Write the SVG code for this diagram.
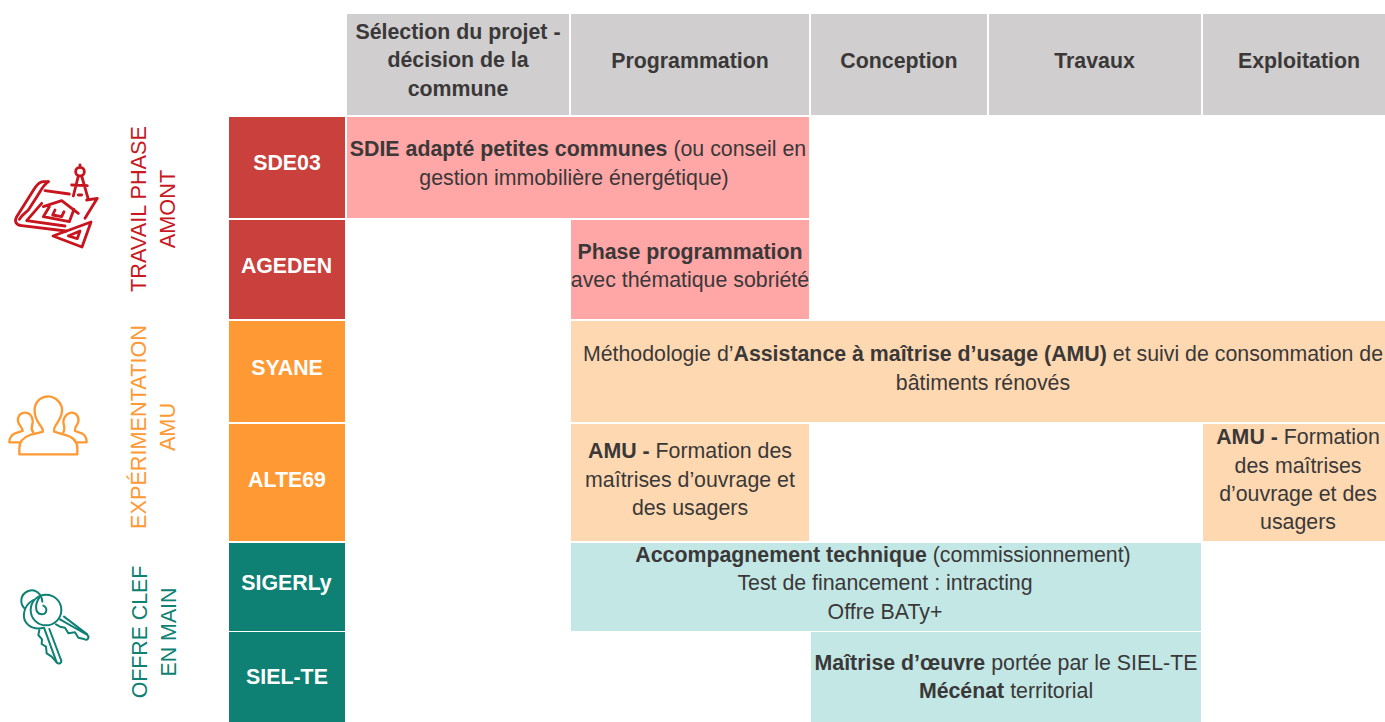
<svg xmlns="http://www.w3.org/2000/svg" width="1385" height="722" viewBox="0 0 1385 722">
<style>
text{font-family:"Liberation Sans",Arial,sans-serif;font-size:21.33px;fill:#3a3838;text-anchor:middle}
.b{font-weight:700}
.w{font-weight:700;fill:#fff}
.h{fill:#d0cece}
.red{fill:#c9403c}.ora{fill:#ff9933}.tea{fill:#0e8174}
.lred{fill:#ffa6a6}.lora{fill:#fed8b1}.ltea{fill:#c3e7e5}
.side{font-size:21.7px}
.ic{fill:none;stroke-width:7;stroke-linejoin:round;stroke-linecap:round}
#icon-plan .ic{stroke-width:8.5}
#icon-keys .ic{stroke-width:6}
</style>
<rect width="1385" height="722" fill="#fff"/>
<g id="headers">
<g id="h1"><rect class="h" x="347" y="14" width="222" height="101"/><text class="b" x="458" y="39">Sélection du projet -</text><text class="b" x="458" y="67">décision de la</text><text class="b" x="458" y="96">commune</text></g>
<g id="h2"><rect class="h" x="571" y="14" width="238" height="101"/><text class="b" x="690" y="68">Programmation</text></g>
<g id="h3"><rect class="h" x="811" y="14" width="176" height="101"/><text class="b" x="899" y="68">Conception</text></g>
<g id="h4"><rect class="h" x="989" y="14" width="212" height="101"/><text class="b" x="1094.500" y="68">Travaux</text></g>
<g id="h5"><rect class="h" x="1203" y="14" width="182" height="101"/><text class="b" x="1299" y="68">Exploitation</text></g>
</g>
<g id="actors">
<g id="sde03"><rect class="red" x="229" y="117" width="116" height="101"/><text class="w" x="287" y="170">SDE03</text></g>
<g id="ageden"><rect class="red" x="229" y="220" width="116" height="99"/><text class="w" x="286.500" y="273">AGEDEN</text></g>
<g id="syane"><rect class="ora" x="229" y="321" width="116" height="101"/><text class="w" x="287" y="375">SYANE</text></g>
<g id="alte69"><rect class="ora" x="229" y="424" width="116" height="117"/><text class="w" x="287" y="487">ALTE69</text></g>
<g id="sigerly"><rect class="tea" x="229" y="543" width="116" height="88"/><text class="w" x="286.500" y="590">SIGERLy</text></g>
<g id="sielte"><rect class="tea" x="229" y="632" width="116" height="90"/><text class="w" x="287" y="684">SIEL-TE</text></g>
</g>
<g id="cells">
<g id="c1"><rect class="lred" x="347" y="117" width="462" height="101"/><text x="578" y="156"><tspan class="b">SDIE adapté petites communes</tspan> (ou conseil en</text><text x="574" y="185">gestion immobilière énergétique)</text></g>
<g id="c2"><rect class="lred" x="571" y="220" width="238" height="99"/><text class="b" x="690" y="259">Phase programmation</text><text x="690" y="287">avec thématique sobriété</text></g>
<g id="c3"><rect class="lora" x="571" y="321" width="814" height="101"/><text x="983" y="361">Méthodologie d’<tspan class="b">Assistance à maîtrise d’usage (AMU)</tspan> et suivi de consommation de</text><text x="983" y="390">bâtiments rénovés</text></g>
<g id="c4"><rect class="lora" x="571" y="424" width="238" height="117"/><text x="690" y="458"><tspan class="b">AMU - </tspan>Formation des</text><text x="690" y="487">maîtrises d’ouvrage et</text><text x="690" y="515">des usagers</text></g>
<g id="c5"><rect class="lora" x="1203" y="424" width="182" height="117"/><text x="1298" y="444"><tspan class="b">AMU - </tspan>Formation</text><text x="1298" y="473">des maîtrises</text><text x="1298" y="501">d’ouvrage et des</text><text x="1298" y="529">usagers</text></g>
<g id="c6"><rect class="ltea" x="571" y="543" width="630" height="88"/><text x="883" y="562"><tspan class="b">Accompagnement technique</tspan> (commissionnement)</text><text x="885" y="590">Test de financement : intracting</text><text x="885" y="619">Offre BATy+</text></g>
<g id="c7"><rect class="ltea" x="811" y="632" width="390" height="90"/><text x="1006" y="670"><tspan class="b">Maîtrise d’œuvre</tspan> portée par le SIEL-TE</text><text x="1006" y="698"><tspan class="b">Mécénat</tspan> territorial</text></g>
</g>
<g id="side-labels">
<g id="s1"><text class="side" style="fill:#c8191f" transform="translate(146,209) rotate(-90)">TRAVAIL PHASE</text><text class="side" style="fill:#c8191f" transform="translate(175,209) rotate(-90)">AMONT</text></g>
<g id="s2"><text class="side" style="fill:#ff9933" transform="translate(146,427) rotate(-90)">EXPÉRIMENTATION</text><text class="side" style="fill:#ff9933" transform="translate(175,427) rotate(-90)">AMU</text></g>
<g id="s3"><text class="side" style="fill:#0e8174;font-size:21.33px" transform="translate(147,632) rotate(-90)">OFFRE CLEF</text><text class="side" style="fill:#0e8174;font-size:21.33px" transform="translate(176,632) rotate(-90)">EN MAIN</text></g>
</g>
<g id="icon-plan" stroke="#c8141e" transform="translate(10,160) scale(.3333)">
<path class="ic" d="M115 65H100C88 65 80 75 72 88L20 170C12 185 18 195 35 197L168 213"/>
<path class="ic" d="M115 65C100 75 92 92 82 108L55 150C45 160 35 165 28 178"/>
<path class="ic" d="M95 130L50 182L165 198M105 92L178 102M230 120L262 115L225 175"/>
<path class="ic" d="M100 140L155 122L205 160M118 140L100 170L178 185L192 148M135 150L128 165L155 170L162 155"/>
<path class="ic" d="M129 228L243 186L216 261ZM175 228L210 213L202 236Z"/>
<circle class="ic" cx="210" cy="35" r="13"/><path class="ic" d="M210 15V22M205 48L190 108M215 48L235 118M185 75L232 77M205 105H215"/>
</g>
<g id="icon-people" stroke="#ff9933" transform="translate(0,320) scale(.3333)">
<path class="ic" d="M58 403H232V385C232 360 215 350 195 345L162 335C160 325 165 320 170 312C185 290 190 275 185 260C178 240 160 229 145 229C125 229 108 242 104 265C102 285 112 305 122 318C128 325 130 330 128 336L90 345C70 352 58 365 58 385Z"/>
<path class="ic" d="M100 337C88 325 100 318 98 300C95 285 85 278 75 278C60 278 52 290 54 303C56 318 68 322 68 333L45 340C35 345 28 355 28 367H58"/>
<path class="ic" d="M190 337C198 325 190 318 190 303C192 288 205 278 215 278C228 278 238 290 235 305C232 318 222 322 225 333L245 340C255 345 260 355 260 367H232"/>
</g>
<g id="icon-keys" stroke="#0e8174" transform="translate(10,585) scale(.3333)">
<path class="ic" d="M45 72C28 55 30 28 55 18C75 10 95 25 97 50"/>
<path class="ic" d="M70 45C40 62 32 100 55 120C70 132 88 132 102 128L140 232C148 240 158 232 152 222L118 132"/>
<path class="ic" d="M88 135L85 150L96 163L95 177L108 185L110 205L125 215L140 232"/>
<circle class="ic" cx="108" cy="75" r="46"/>
<path class="ic" d="M90 35C75 55 72 85 95 88C110 88 115 70 100 62"/>
<path class="ic" d="M150 103L232 150C240 158 232 168 222 162L205 158L195 142L175 145L165 128L150 125L138 118M162 95L232 148"/>
</g>
</svg>
